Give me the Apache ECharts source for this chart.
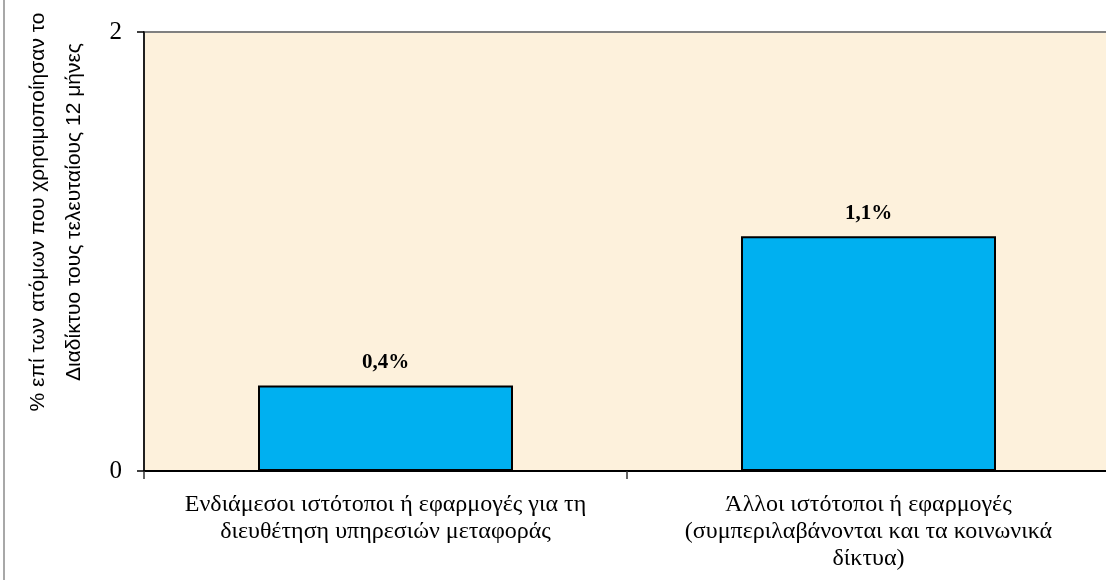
<!DOCTYPE html>
<html>
<head>
<meta charset="utf-8">
<style>
  html, body { margin: 0; padding: 0; background: #fff; }
  .bar { width: 1106px; height: 580px; }
</style>
<script src="https://cdn.jsdelivr.net/npm/echarts@6/dist/echarts.min.js"></script>
</head>
<body>
<div class="bar"></div>
<script>
// data
var categories = [
  "Ενδιάμεσοι ιστότοποι ή εφαρμογές για τη\nδιευθέτηση υπηρεσιών μεταφοράς",
  "Άλλοι ιστότοποι ή εφαρμογές\n(συμπεριλαβάνονται και τα κοινωνικά\nδίκτυα)"
];
var values = [0.39, 1.07];
var yMin = 0;
var yMax = 2;
var yStep = 2;
var yName = "% επί των ατόμων που χρησιμοποίησαν το\nΔιαδίκτυο τους τελευταίους 12 μήνες";

(function() {
  // 1. init
  var myChart = echarts.init(document.querySelector(".bar"));
  // 2. option
  var option = {
    animation: false,
    grid: {
      left: 144,
      top: 32,
      right: -4,
      bottom: 109,
      show: true,
      backgroundColor: "#fdf1dc",
      borderColor: "#808080",
      borderWidth: 2,
      containLabel: false,
      outerBoundsMode: "none"
    },
    xAxis: {
      type: "category",
      data: categories,
      axisLine: { lineStyle: { color: "#000", width: 2 } },
      axisTick: { show: true, length: 8, lineStyle: { color: "#333", width: 1.5 } },
      axisLabel: {
        interval: 0,
        color: "#000",
        fontFamily: "Liberation Serif",
        fontSize: 24,
        lineHeight: 27,
        margin: 20
      },
      splitLine: { show: false }
    },
    yAxis: {
      type: "value",
      min: yMin,
      max: yMax,
      interval: yStep,
      axisLine: { show: true, lineStyle: { color: "#000", width: 1.5 } },
      axisTick: { show: true, length: 7, lineStyle: { color: "#000", width: 1.5 } },
      axisLabel: {
        color: "#000",
        fontFamily: "Liberation Serif",
        fontSize: 25,
        margin: 22
      },
      splitLine: { show: false }
    },
    series: [
      {
        type: "bar",
        data: values,
        barWidth: 255,
        itemStyle: {
          color: "#00b0f0",
          borderColor: "#000",
          borderWidth: 2
        },
        label: {
          show: true,
          position: "top",
          distance: 12,
          color: "#000",
          fontFamily: "Liberation Serif",
          fontWeight: "bold",
          fontSize: 21,
          formatter: function(p) {
            return p.value.toFixed(1).replace(".", ",") + "%";
          }
        }
      }
    ],
    graphic: [
      // outer chart frame
      {
        type: "rect",
        z: -10,
        shape: { x: 4, y: -10, width: 1200, height: 600 },
        style: { fill: "none", stroke: "#8c8c8c", lineWidth: 1.5 }
      },
      // y axis title
      {
        type: "text",
        x: 56,
        y: 212,
        rotation: Math.PI / 2,
        style: {
          text: yName,
          fill: "#000",
          font: "21px 'Liberation Sans'",
          lineHeight: 36,
          align: "center",
          verticalAlign: "middle"
        }
      }
    ]
  };
  // 3. render
  myChart.setOption(option);
  window.addEventListener("resize", function() {
    myChart.resize();
  });
})();
</script>
</body>
</html>
